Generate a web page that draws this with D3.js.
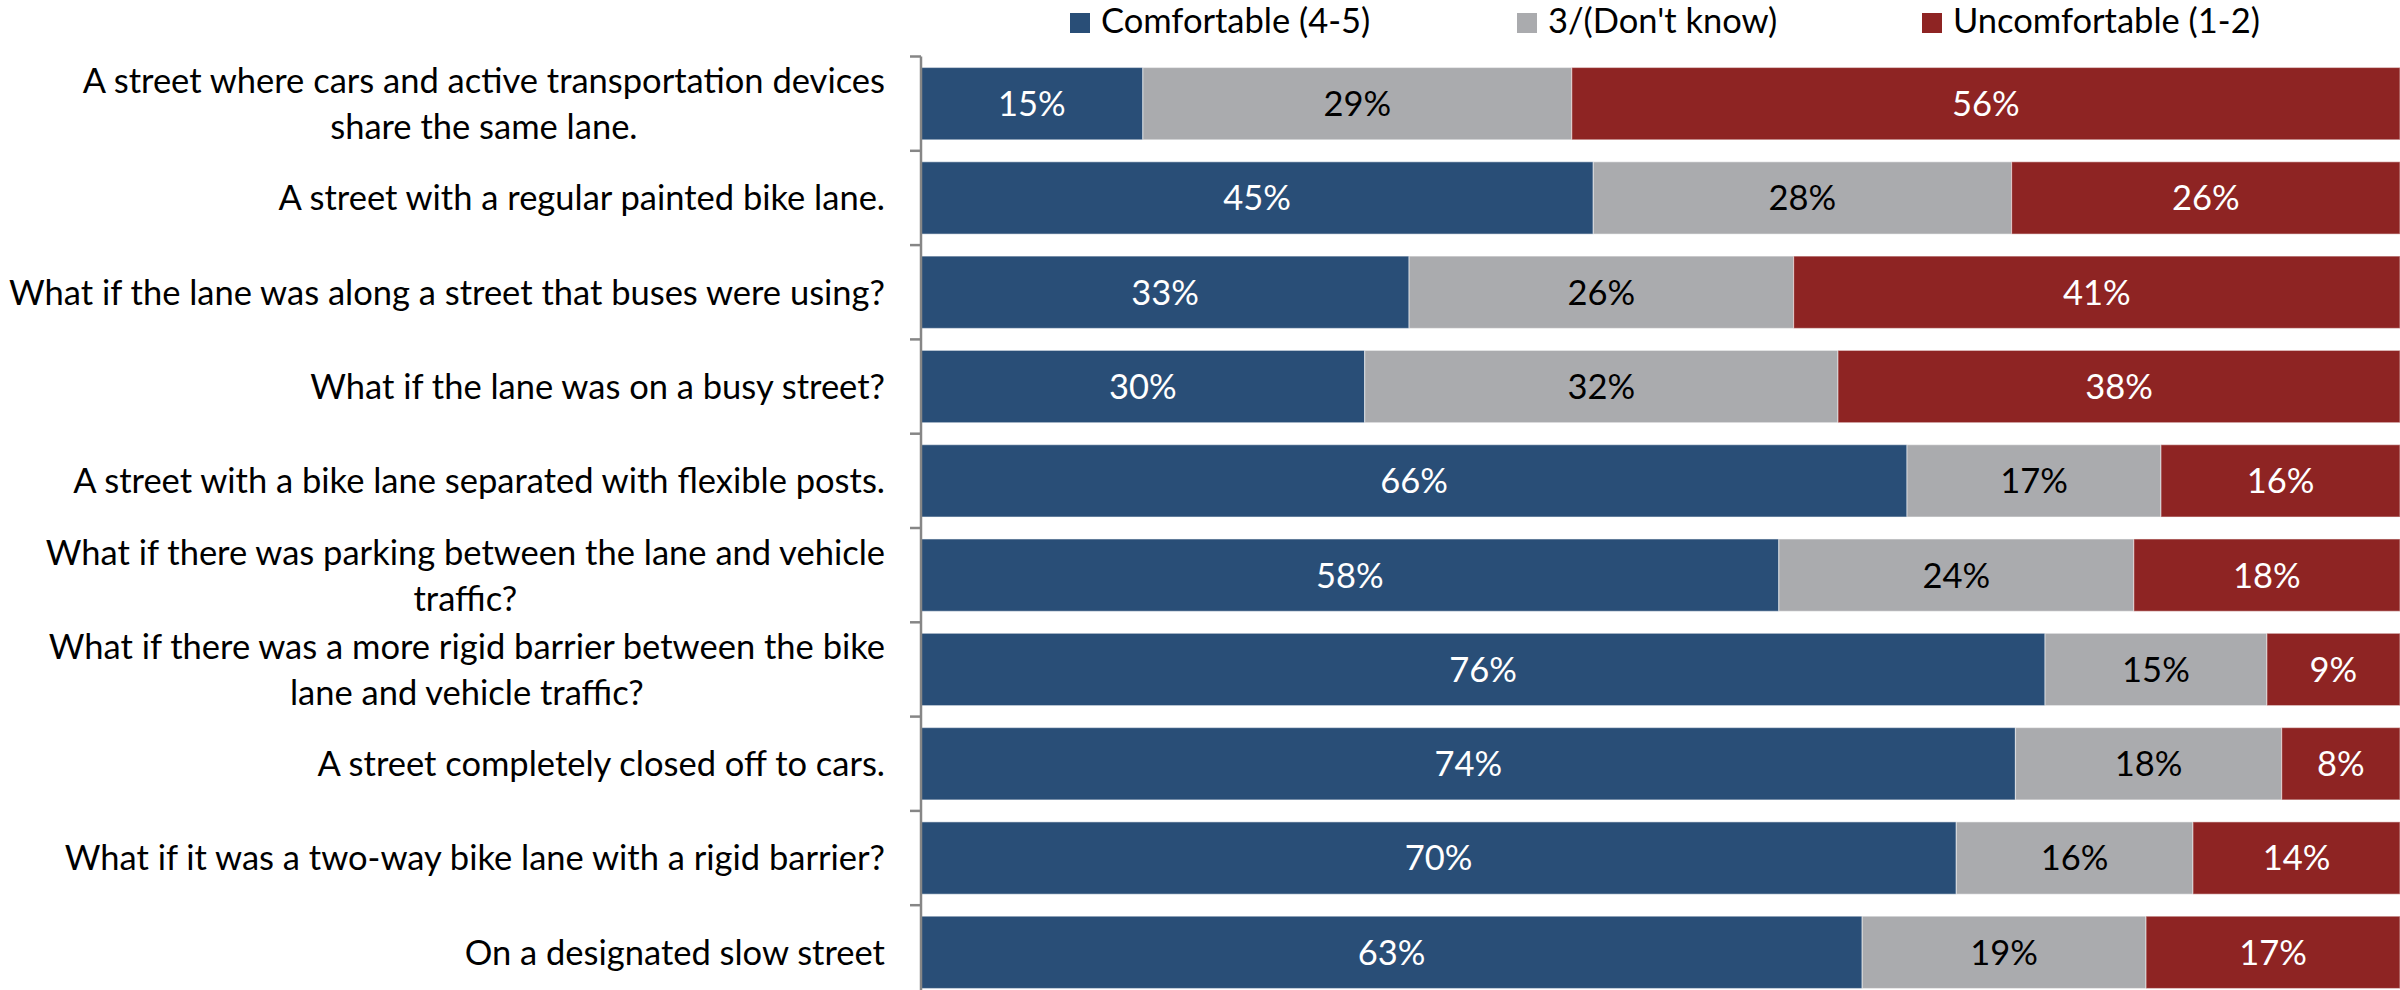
<!DOCTYPE html>
<html><head><meta charset="utf-8">
<script src="https://cdn.jsdelivr.net/npm/d3@7"></script>
<style>html,body{margin:0;padding:0;background:#fff;}svg{display:block;}</style>
</head><body>
<svg id="c" width="2400" height="990"></svg>
<script>
const categories = [
  ["A street where cars and active transportation devices", "share the same lane."],
  ["A street with a regular painted bike lane."],
  ["What if the lane was along a street that buses were using?"],
  ["What if the lane was on a busy street?"],
  ["A street with a bike lane separated with flexible posts."],
  ["What if there was parking between the lane and vehicle", "traffic?"],
  ["What if there was a more rigid barrier between the bike", "lane and vehicle traffic?"],
  ["A street completely closed off to cars."],
  ["What if it was a two-way bike lane with a rigid barrier?"],
  ["On a designated slow street"]
];
const seriesNames = ["Comfortable (4-5)", "3/(Don't know)", "Uncomfortable (1-2)"];
const comfortable   = [15, 45, 33, 30, 66, 58, 76, 74, 70, 63];
const dontKnow      = [29, 28, 26, 32, 17, 24, 15, 18, 16, 19];
const uncomfortable = [56, 26, 41, 38, 16, 18, 9, 8, 14, 17];

const colors = ["#294E77", "#AAABAE", "#8E2423"];
const labelColors = ["#fff", "#000", "#fff"];
const FONT = "Lato, 'Open Sans', sans-serif";
const FS = 34.5;

const svg = d3.select("#c");
const ids = categories.map((c, i) => i);
const rows = ids.map(i => {
  const vals = [comfortable[i], dontKnow[i], uncomfortable[i]];
  const tot = d3.sum(vals);
  let acc = 0;
  return vals.map((v, k) => { const s = acc / tot; acc += v; return {i, k, v, x0: s, x1: acc / tot}; });
});

const x = d3.scaleLinear().domain([0, 1]).range([921, 2400]);
const y = d3.scaleBand().domain(ids).range([56.5, 56.5 + 10 * 94.3]).padding(0);
const step = y.step();
const barH = step * 0.767;
const barOff = (step - barH) / 2;

// bars
const g = svg.append("g");
rows.forEach(r => {
  g.selectAll(null).data(r).enter().append("rect")
    .attr("x", d => x(d.x0)).attr("y", d => y(d.i) + barOff)
    .attr("width", d => x(d.x1) - x(d.x0)).attr("height", barH)
    .attr("fill", d => colors[d.k])
    .attr("stroke", "rgba(255,255,255,0.45)").attr("stroke-width", 1.2);
  g.selectAll(null).data(r).enter().append("text")
    .attr("x", d => (x(d.x0) + x(d.x1)) / 2).attr("y", d => y(d.i) + step / 2)
    .attr("dy", "0.36em").attr("text-anchor", "middle")
    .attr("font-family", FONT).attr("font-size", FS)
    .attr("fill", d => labelColors[d.k])
    .text(d => d.v + "%");
});

// axis
const ag = svg.append("g").attr("transform", "translate(921,0)");
ag.append("line").attr("x1", 0).attr("x2", 0).attr("y1", 56.5).attr("y2", 990).attr("stroke", "#868686").attr("stroke-width", 2.5);
ag.selectAll(".tk").data(d3.range(11)).enter().append("line")
  .attr("x1", -11).attr("x2", 0)
  .attr("y1", i => 56.5 + i * step).attr("y2", i => 56.5 + i * step)
  .attr("stroke", "#868686").attr("stroke-width", 2.5);

// category labels
const lg = svg.append("g");
categories.forEach((lines, i) => {
  const cy = y(i) + step / 2;
  const lh = 46;
  const t = lg.append("text").attr("font-family", FONT).attr("font-size", FS).attr("fill", "#000");
  const spans = lines.map((ln, j) => t.append("tspan").attr("y", cy + (j - (lines.length - 1) / 2) * lh).attr("dy", "0.36em").text(ln));
  const wMax = d3.max(spans, s => s.node().getComputedTextLength());
  const cx = 885 - wMax / 2;
  spans.forEach(s => s.attr("x", cx).attr("text-anchor", "middle"));
});

// legend
const legX = [1070, 1517, 1922];
const leg = svg.append("g");
seriesNames.forEach((n, k) => {
  leg.append("rect").attr("x", legX[k]).attr("y", 13).attr("width", 20).attr("height", 20).attr("fill", colors[k]);
  leg.append("text").attr("x", legX[k] + 31).attr("y", 33)
    .attr("font-family", FONT).attr("font-size", FS).attr("fill", "#000").text(n);
});
</script>
</body></html>
